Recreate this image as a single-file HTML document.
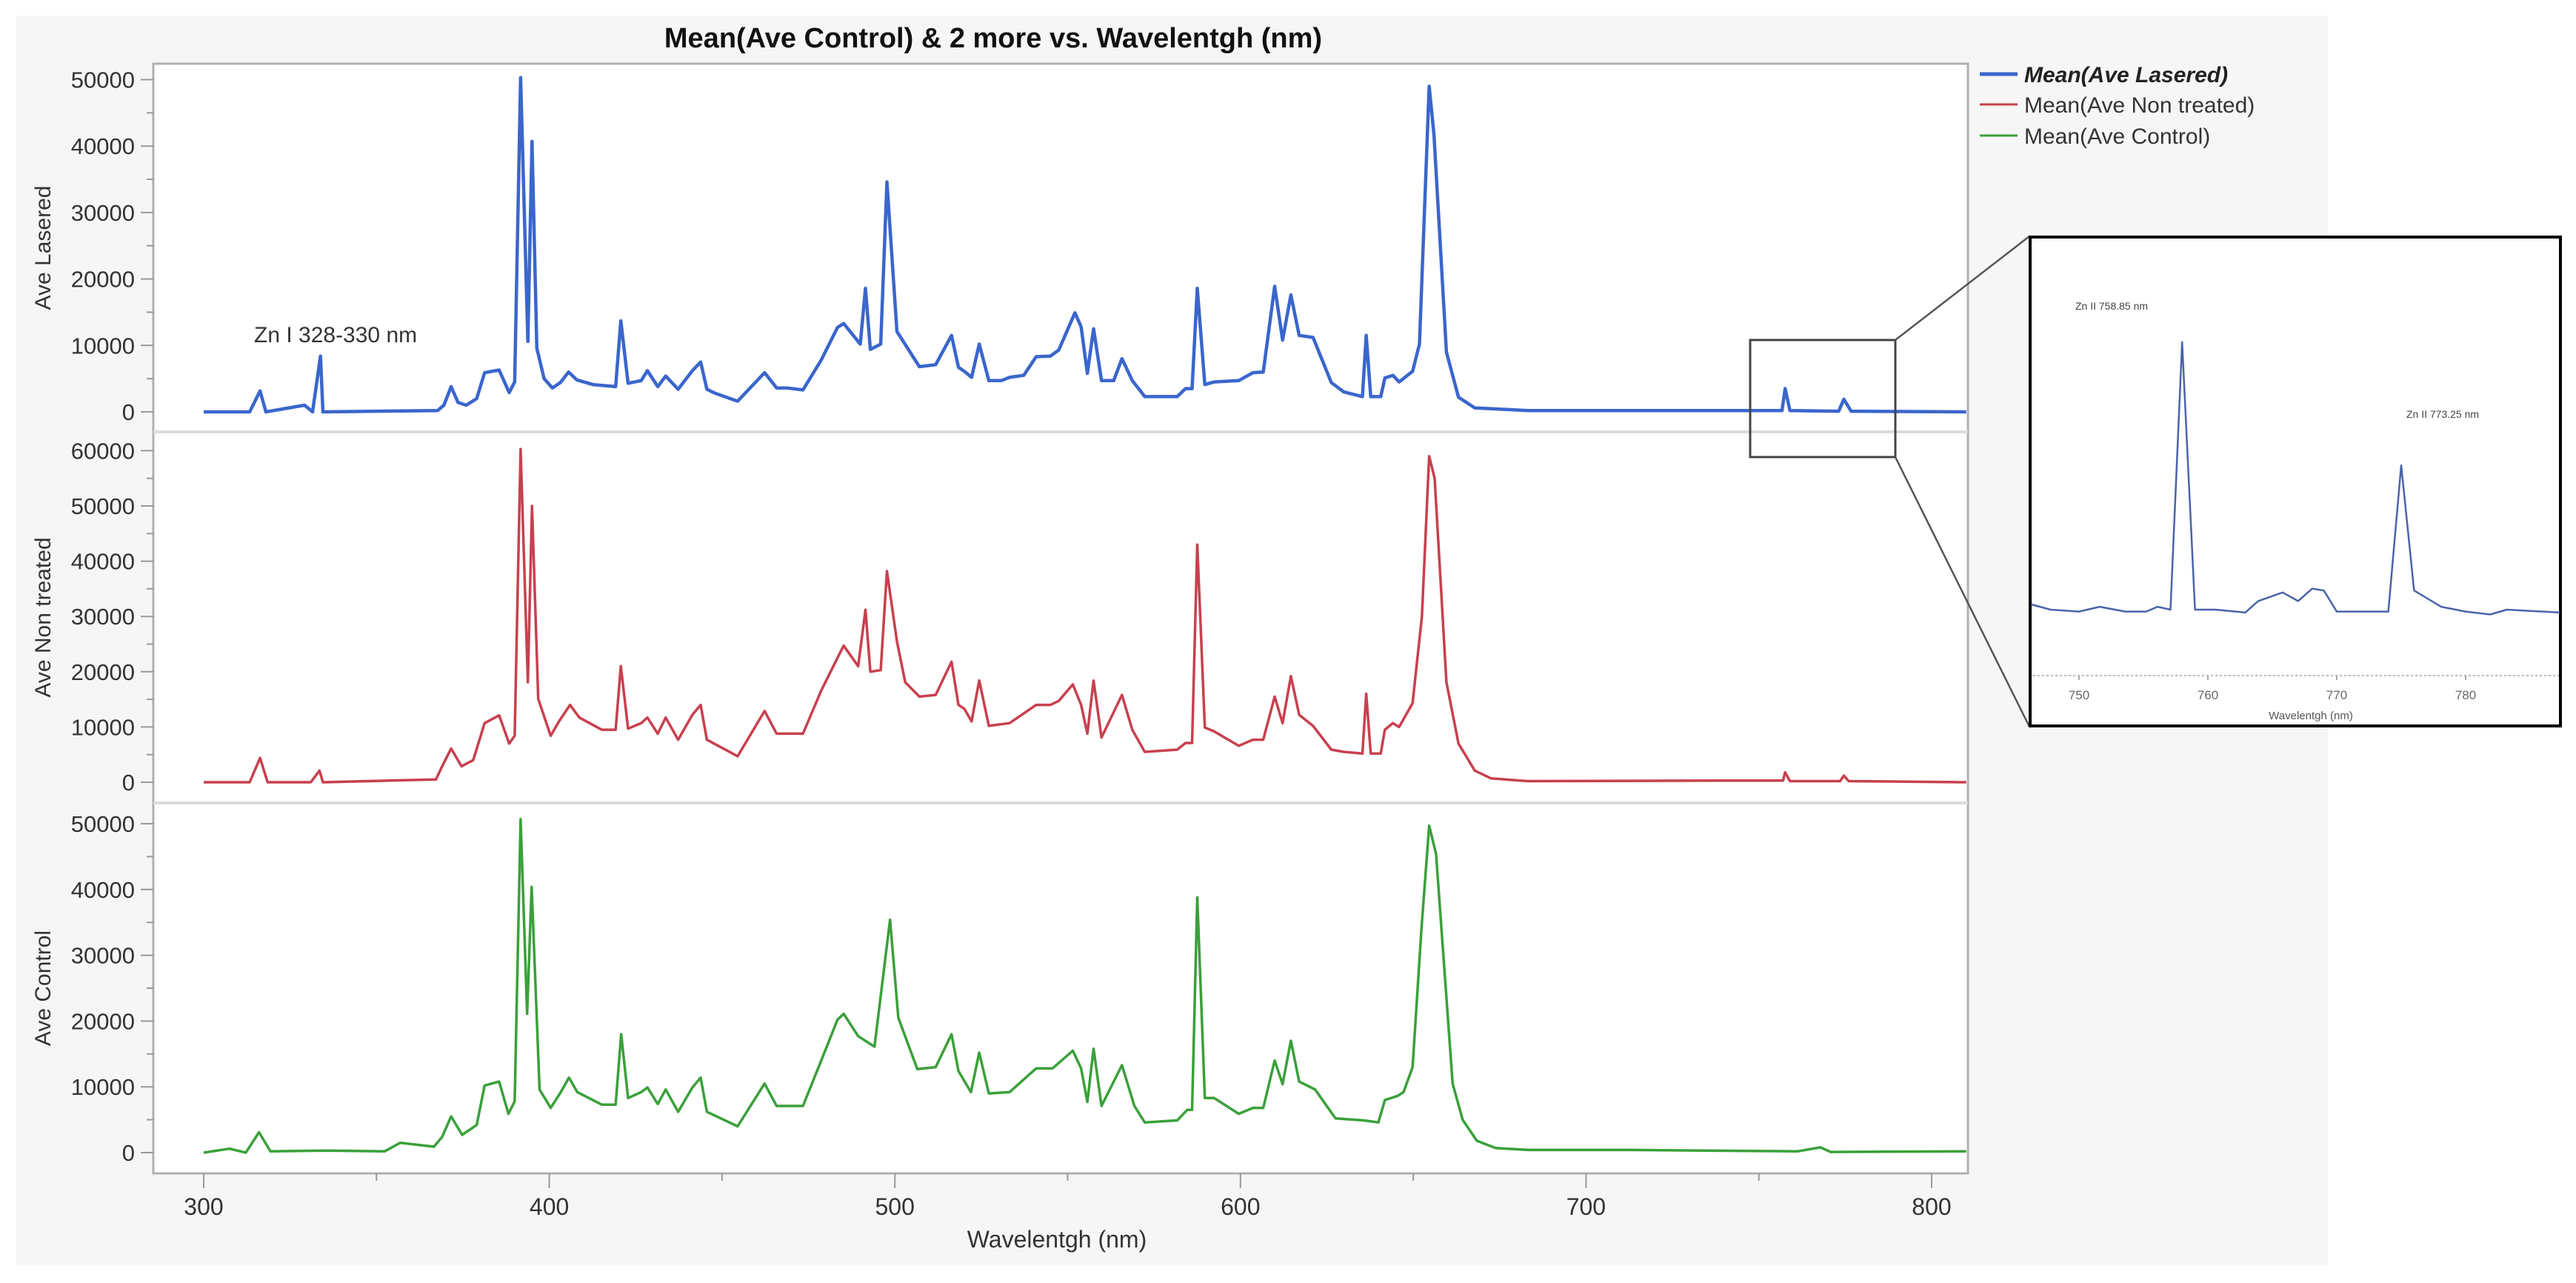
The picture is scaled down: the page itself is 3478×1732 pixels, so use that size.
<!DOCTYPE html>
<html><head><meta charset="utf-8"><style>
html,body{margin:0;padding:0;background:#fff;}
svg{display:block;font-family:"Liberation Sans",sans-serif;}
</style></head><body>
<svg id="chart" width="3478" height="1732" viewBox="0 0 3478 1732" xmlns="http://www.w3.org/2000/svg">
<rect x="22" y="21" width="3121" height="1687" fill="#f6f6f6"/>
<text x="1341" y="64" text-anchor="middle" font-size="38" font-weight="bold" fill="#111">Mean(Ave Control)  &amp; 2 more vs. Wavelentgh (nm)</text>
<rect x="207" y="86" width="2450" height="1498" fill="#fff" stroke="#b0b0b0" stroke-width="3"/>
<g id="panels"></g>
<text x="1427" y="1684" text-anchor="middle" font-size="32" fill="#333">Wavelentgh (nm)</text>
<text x="343" y="462" font-size="30" fill="#333">Zn I 328-330 nm</text>
<g>
<line x1="2673" y1="100" x2="2724" y2="100" stroke="#3a66cc" stroke-width="5"/>
<text x="2733" y="111" font-size="30" font-weight="bold" font-style="italic" fill="#222">Mean(Ave Lasered)</text>
<line x1="2673" y1="141" x2="2724" y2="141" stroke="#c8404f" stroke-width="3"/>
<text x="2733" y="152" font-size="30" fill="#333">Mean(Ave Non treated)</text>
<line x1="2673" y1="183" x2="2724" y2="183" stroke="#3aa03a" stroke-width="3"/>
<text x="2733" y="194" font-size="30" fill="#333">Mean(Ave Control)</text>
</g>
<rect x="2363" y="459" width="196" height="158" fill="none" stroke="#444" stroke-width="3"/>
<line x1="2559" y1="459" x2="2740" y2="319" stroke="#555" stroke-width="2.5"/>
<line x1="2559" y1="617" x2="2740" y2="981" stroke="#555" stroke-width="2.5"/>
<g id="inset">
<rect x="2741" y="320" width="716" height="660" fill="#fff" stroke="#000" stroke-width="4"/>
<text x="2802" y="418" font-size="14" fill="#444">Zn II 758.85 nm</text>
<text x="3249" y="564" font-size="14" fill="#444">Zn II 773.25 nm</text>
<text x="3120" y="971" text-anchor="middle" font-size="15" fill="#555">Wavelentgh (nm)</text>
</g>
</svg>
<script>
const NS="http://www.w3.org/2000/svg";
// ---- data ----
const xTicks=[300,400,500,600,700,800];
const lasWl=[300,313.3,316.3,318,329.2,331.5,333.8,334.5,367.7,369.5,371.6,373.6,376,379,381.3,385.5,388.4,390,391.7,393.8,395,396.4,398.5,400.9,403.2,405.6,408,412.7,419.2,420.7,422.8,426.6,428.4,431.4,433.7,437.3,441.4,443.8,445.6,448,454.5,462.3,465.8,468.7,473.4,478.7,483.4,485.2,490,491.5,492.9,495.9,497.7,500.6,507.1,511.8,516.4,518.4,520.1,522.2,524.4,527.2,530.8,533.2,537.3,540.9,545,547.4,552.1,553.9,555.7,557.5,559.8,563.3,565.7,568.7,572.3,581.7,584.1,586,587.5,589.7,592.4,599.5,603.6,606.6,609.9,612.2,614.6,617,621,626.3,629.9,635.3,636.4,637.7,640.6,641.8,644.1,645.9,649.8,651.8,654.6,656,659.6,663.1,667.8,683.2,756.7,757.6,759,773.1,774.6,776.7,810];
const lasVal=[0,0,3150,0,1000,0,8400,0,200,1000,3800,1400,1000,2000,5900,6300,2900,4500,50300,10600,40700,9600,5000,3600,4400,6000,4800,4100,3800,13700,4300,4700,6200,3800,5400,3400,6200,7500,3400,2800,1600,5900,3600,3600,3300,7800,12700,13300,10200,18600,9400,10200,34600,12100,6800,7100,11500,6700,6100,5200,10200,4700,4700,5200,5500,8300,8400,9300,14900,12800,5800,12500,4700,4700,8000,4700,2300,2300,3500,3500,18600,4100,4500,4700,5900,6000,18900,10800,17600,11500,11200,4400,3000,2300,11500,2300,2300,5100,5500,4500,6100,10200,49000,41700,9000,2200,600,200,200,3500,200,100,1900,100,0];
const ntWl=[300,313.3,316.3,318.5,331,333.5,334.5,353.5,367.2,369,371.6,374.6,378,381.3,385.5,388.4,390,391.7,393.8,395,396.8,400.4,402.8,406,408.7,415.2,419.2,420.7,422.8,426.6,428.4,431.4,433.7,437.3,441.4,443.8,445.6,454.5,462.3,465.8,473.4,478.7,483.4,485.2,489.4,491.5,492.9,495.9,497.7,500.6,503,507.1,511.8,516.4,518.4,520.1,522.2,524.4,527.2,533.2,540.9,545,547.4,551.5,553.9,555.7,557.5,559.8,565.7,568.7,572.3,581.7,584.1,586,587.5,589.7,592.4,599.5,603.6,606.6,609.9,612.2,614.6,617,621,626.3,629.9,635.3,636.4,637.7,640.6,641.8,644.1,645.9,649.8,652.5,654.6,656.2,659.6,663.1,667.8,672.5,683.2,742.5,757,757.6,759,773.5,774.6,776,810];
const ntVal=[0,0,4400,0,0,2100,0,300,500,2900,6100,2900,4000,10700,12100,7000,8400,60300,18100,50000,15100,8400,11000,14000,11700,9500,9500,21000,9700,10700,11700,8800,11700,7700,12200,14000,7700,4700,12900,8800,8800,16600,22500,24700,21000,31200,20000,20300,38200,25500,18100,15500,15800,21800,14000,13300,11000,18400,10200,10700,14000,14000,14700,17700,14000,8800,18400,8100,15800,9500,5500,5900,7100,7100,43000,9900,9200,6600,7700,7700,15500,10700,19200,12200,10200,5900,5500,5200,16000,5200,5200,9500,10700,10000,14300,30000,59000,55000,18100,7000,2100,700,200,300,300,1800,200,200,1200,200,0];
const ctWl=[300,307.5,312.2,316,319.3,335.8,352.4,356.9,366.6,369,371.6,374.8,379,381.3,385.5,388.2,390,391.7,393.6,394.9,397.2,400.4,403.1,405.7,408.1,415.2,419.2,420.8,422.8,426.6,428.4,431.4,433.7,437.3,441.4,443.8,445.6,454.5,462.3,465.8,473.4,478.7,483.4,485.2,489.4,494.1,498.6,501,506.5,511.8,516.4,518.4,522,524.4,527.2,533.2,540.9,545.6,551.5,553.9,555.7,557.5,559.8,565.7,569.3,572.3,581.7,584.6,586,587.5,589.7,592.4,599.5,603.6,606.6,609.9,612.2,614.6,617,621.6,627.5,635.7,639.9,641.8,645.4,647.2,649.8,652.4,654.6,656.6,659,661.4,664.3,668.4,673.8,683.2,712.8,761.3,767.8,770.8,810];
const ctVal=[0,600,0,3100,200,300,200,1500,900,2400,5500,2700,4200,10200,10800,5900,7800,50700,21100,40400,9600,6800,9000,11400,9200,7300,7300,18000,8300,9200,9900,7400,9600,6200,9900,11400,6200,4000,10500,7100,7100,14000,20200,21100,17700,16100,35400,20500,12700,13000,18000,12400,9200,15200,9000,9200,12800,12800,15500,12800,7700,15800,7100,13300,7100,4600,4900,6500,6500,38800,8300,8300,5900,6800,6800,14000,10400,17000,10800,9600,5200,4900,4600,8000,8600,9200,13000,34200,49700,45400,27900,10500,5000,1800,700,400,400,200,800,100,200];
const insetWl=[746.3,747.8,750,751.6,753.6,755.2,756.1,757.1,758,759,760.6,762.9,763.9,765.8,767,768.1,769,770,774,775,776,778.1,780,781.9,783.2,787.3];
const insetVal=[254,200,180,230,180,180,230,200,3000,200,200,170,290,380,290,420,400,180,180,1710,400,230,180,150,200,170];
const insetTicks=[750,760,770,780];
const panelNames=["lasered","nontreated","control"];
const panelLabels=["Ave Lasered","Ave Non treated","Ave Control"];
const panelMax=[50000,60000,50000];
// ---- layout ----
const X0=275, PX100=466.6;
function xs(v){return X0+(v-300)*PX100/100;}
const panels=[
 {zero:556,per10k:89.7,top:86,bot:583,wl:lasWl,val:lasVal,color:"#3a66cc",w:4.5},
 {zero:1056,per10k:74.6,top:583,bot:1084,wl:ntWl,val:ntVal,color:"#c8404f",w:3.5},
 {zero:1556,per10k:88.8,top:1084,bot:1584,wl:ctWl,val:ctVal,color:"#3aa03a",w:3.5}
];
const svg=document.getElementById('chart');
const g=document.getElementById('panels');
function mk(tag,attrs,parent){const e=document.createElementNS(NS,tag);for(const k in attrs)e.setAttribute(k,attrs[k]);(parent||g).appendChild(e);return e;}
panels.forEach((p,i)=>{
  const ys=v=>p.zero-v*p.per10k/10000;
  if(i>0){
    const sep=mk('line',{x1:207,x2:2657,y1:p.top,y2:p.top,stroke:"#dcdcdc","stroke-width":4});
    
    
  }
  for(let v=0;v<=panelMax[i];v+=5000){
    const major=v%10000===0;
    const t=mk('line',{x1:major?190:198,x2:207,y1:ys(v),y2:ys(v),stroke:"#999","stroke-width":2});
    
    
    if(major){
      const l=mk('text',{x:182,y:ys(v)+11,"text-anchor":"end","font-size":31,fill:"#333"});
      l.textContent=String(v);
      
      
    }
  }
  const cy=(p.top+p.bot)/2;
  const yl=mk('text',{x:0,y:0,"text-anchor":"middle","font-size":30,fill:"#333",transform:`translate(68,${cy}) rotate(-90)`});
  yl.textContent=panelLabels[i];
  
  
  const pts=p.wl.map((w,k)=>xs(w).toFixed(1)+","+ys(p.val[k]).toFixed(1)).join(" ");
  const line=mk('polyline',{points:pts,fill:"none",stroke:p.color,"stroke-width":p.w,"stroke-linejoin":"round"});
  
  
});
for(let v=300;v<=800;v+=50){
  const major=v%100===0;
  const t=mk('line',{x1:xs(v),x2:xs(v),y1:1584,y2:major?1604:1594,stroke:"#999","stroke-width":2});
  
  
}
xTicks.forEach(v=>{
  const l=mk('text',{x:xs(v),y:1640,"text-anchor":"middle","font-size":32,fill:"#333"});
  l.textContent=String(v);
  
  
});
// inset
const ig=document.getElementById('inset');
function ixs(v){return 2807+(v-750)*17.4;}
function iys(v){return 823-(v-200)*0.129;}
const ax=mk('line',{x1:2745,x2:3455,y1:912,y2:912,stroke:"#bbb","stroke-width":2,"stroke-dasharray":"3,3"},ig);


insetTicks.forEach(v=>{
  const t=mk('line',{x1:ixs(v),x2:ixs(v),y1:912,y2:918,stroke:"#aaa","stroke-width":2},ig);
  
  
  const l=mk('text',{x:ixs(v),y:944,"text-anchor":"middle","font-size":17,fill:"#666"},ig);
  l.textContent=String(v);
  
  
});
const ipts=insetWl.map((w,k)=>ixs(w).toFixed(1)+","+iys(insetVal[k]).toFixed(1)).join(" ");
const il=mk('polyline',{points:ipts,fill:"none",stroke:"#4a64a8","stroke-width":2.5,"stroke-linejoin":"round"},ig);


</script>
</body></html>
